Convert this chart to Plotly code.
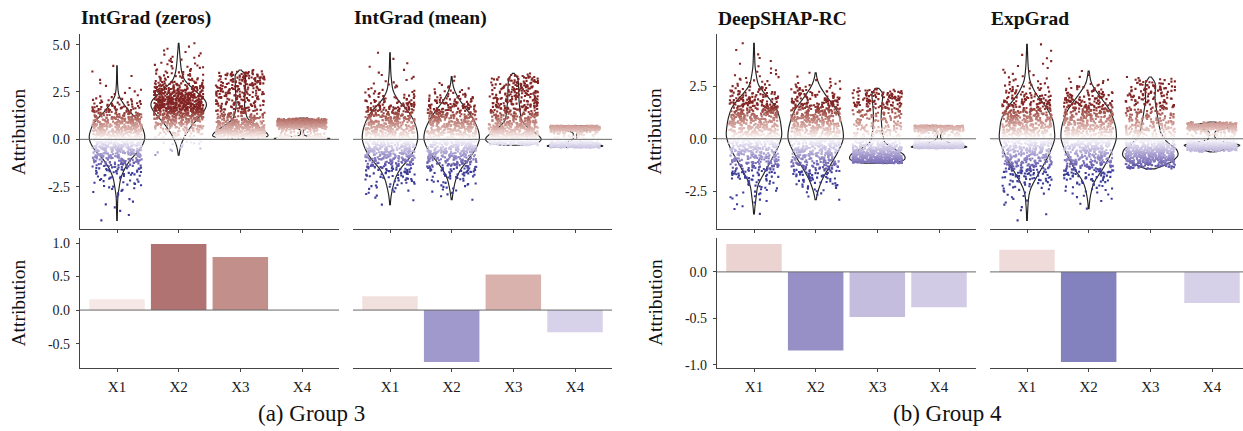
import numpy as np
import plotly.graph_objects as go

# ---------------- data ----------------
FEATURES = ["X1", "X2", "X3", "X4"]
METHODS = ["IntGrad (zeros)", "IntGrad (mean)", "DeepSHAP-RC", "ExpGrad"]
GROUP_OF_METHOD = [0, 0, 1, 1]
GROUP_CAPTIONS = ["(a) Group 3", "(b) Group 4"]
AXIS_TITLE = "Attribution"

# bar heights (global attribution per feature)
BARS_INTGRAD_ZEROS = [0.16, 0.985, 0.79, 0.0]
BARS_INTGRAD_MEAN = [0.205, -0.775, 0.53, -0.33]
BARS_DEEPSHAP = [0.30, -0.845, -0.486, -0.38]
BARS_EXPGRAD = [0.237, -0.97, 0.0, -0.335]

# distribution of local attributions: value levels and relative density (violin width)
ZEROS_LEVELS = [
    [3.88, 3.0, 2.6, 2.3, 1.9, 1.38, 0.86, 0.26, 0.0, -0.52, -1.03, -1.55, -2.07, -2.6, -3.0, -4.28],
    [5.07, 4.14, 3.6, 3.1, 2.59, 2.07, 1.8, 1.29, 0.78, 0.26, 0.0, -0.4, -0.83],
    [3.66, 3.45, 3.2, 2.5, 1.72, 1.3, 1.03, 0.69, 0.36, 0.17, 0.03],
    [1.12, 1.05, 0.95, 0.86, 0.75, 0.65, 0.5, 0.3, 0.2, 0.15, 0.1, 0.05, 0.0],
]
ZEROS_DENSITY = [
    [0.5, 1, 2, 3, 12, 28, 48, 56, 57, 47, 28, 15, 7, 4, 1.5, 0.5],
    [0.5, 3, 5, 10, 30, 50, 54, 42, 25, 13, 8, 3, 0.5],
    [0.5, 10, 10, 9, 8, 11, 15, 33, 50, 55, 56],
    [0.5, 15, 28, 33, 25, 10, 2, 2, 3, 8, 20, 40, 56],
]
MEAN_LEVELS = [
    [4.57, 3.5, 2.6, 2.07, 1.55, 1.03, 0.5, 0.0, -0.5, -1.03, -1.55, -2.07, -2.6, -3.0, -3.45],
    [3.31, 2.9, 2.59, 2.07, 1.55, 1.03, 0.5, 0.0, -0.52, -1.03, -1.55, -2.07, -2.59, -3.19],
    [3.48, 3.3, 3.0, 2.0, 1.03, 0.7, 0.52, 0.26, 0.0, -0.17, -0.31],
    [0.72, 0.62, 0.5, 0.4, 0.3, 0.1, 0.0, -0.14, -0.28, -0.35, -0.43],
]
MEAN_DENSITY = [
    [0.5, 1.5, 5, 15, 35, 47, 54, 56, 50, 38, 20, 10, 5, 2, 0.5],
    [0.5, 2, 5, 15, 30, 43, 52, 55, 47, 33, 18, 8, 4, 0.5],
    [0.5, 8, 10, 11, 15, 25, 33, 47, 56, 50, 40],
    [40, 50, 25, 6, 3, 3, 3, 15, 45, 55, 48],
]
DEEPSHAP_LEVELS = [
    [4.54, 3.4, 2.53, 1.98, 1.52, 0.9, 0.12, -0.5, -1.12, -1.74, -2.2, -2.84, -3.2, -3.57],
    [3.14, 2.9, 2.53, 1.98, 1.36, 0.59, 0.0, -0.65, -1.27, -1.9, -2.43, -2.9],
    [2.4, 2.2, 1.98, 1.5, 1.05, 0.28, -0.19, -0.5, -0.73, -0.96, -1.16],
    [0.63, 0.51, 0.35, 0.2, 0.05, -0.11, -0.27, -0.39, -0.45],
]
DEEPSHAP_DENSITY = [
    [0.5, 2, 8, 28, 45, 53, 57, 47, 32, 18, 7, 4, 2, 0.5],
    [0.5, 2, 7, 22, 42, 52, 55, 43, 28, 13, 5, 0.5],
    [3, 10, 10, 8, 7, 9, 13, 32, 50, 53, 45],
    [33, 20, 5, 3, 3, 8, 30, 55, 50],
]
EXPGRAD_LEVELS = [
    [4.49, 3.5, 2.76, 2.14, 1.52, 0.9, 0.0, -0.81, -1.58, -2.2, -2.5, -2.8, -3.3, -3.88],
    [3.22, 2.6, 1.98, 1.36, 0.59, 0.0, -0.65, -1.43, -2.05, -2.5, -2.9, -3.32],
    [2.94, 2.75, 2.6, 1.83, 0.9, 0.28, -0.19, -0.5, -0.81, -1.12, -1.35, -1.43],
    [0.8, 0.72, 0.62, 0.5, 0.4, 0.3, 0.1, -0.05, -0.15, -0.3, -0.45, -0.55, -0.62],
]
EXPGRAD_DENSITY = [
    [0.5, 2, 5, 17, 38, 52, 56, 43, 25, 10, 5, 3, 1.5, 0.5],
    [0.5, 5, 23, 42, 53, 55, 45, 28, 10, 5, 2, 0.5],
    [1, 8, 10, 9, 15, 20, 33, 52, 55, 40, 18, 13],
    [4, 20, 43, 25, 8, 5, 5, 8, 25, 55, 35, 15, 4],
]
N_OBS = 850

TOP_TICKS = [[-2.5, 0.0, 2.5, 5.0], [-2.5, 0.0, 2.5]]
TOP_TICKTEXT = [["-2.5", "0.0", "2.5", "5.0"], ["-2.5", "0.0", "2.5"]]
BOT_TICKS = [[-0.5, 0.0, 0.5, 1.0], [-1.0, -0.5, 0.0]]
BOT_TICKTEXT = [["-0.5", "0.0", "0.5", "1.0"], ["-1.0", "-0.5", "0.0"]]

BARS = [BARS_INTGRAD_ZEROS, BARS_INTGRAD_MEAN, BARS_DEEPSHAP, BARS_EXPGRAD]
LEVELS = [ZEROS_LEVELS, MEAN_LEVELS, DEEPSHAP_LEVELS, EXPGRAD_LEVELS]
DENSITY = [ZEROS_DENSITY, MEAN_DENSITY, DEEPSHAP_DENSITY, EXPGRAD_DENSITY]

# ---------------- styles ----------------
W, H = 1243, 431
FONT = "Liberation Serif"
LOW, MID, HIGH = "#3A3A98", "#FFFFFF", "#832424"
POINT_LIMIT = 1.6
BANDWIDTH = [0.17, 0.17, 0.08, 0.03]
PANEL_LEFT = [80, 353, 717, 990]
PANEL_WIDTH = 259
TOP_PX = (33, 231)
BOT_PX = (240, 372)
AXIS_COL = "#444444"


def fx(px):
    return px / W


def fy(px):
    return 1 - px / H


# ---- CIELAB interpolation (as ggplot's gradient2) ----
def _lab(hexc):
    rgb = np.array([int(hexc[i:i + 2], 16) for i in (1, 3, 5)]) / 255.0
    lin = np.where(rgb <= 0.04045, rgb / 12.92, ((rgb + 0.055) / 1.055) ** 2.4)
    M = np.array([[0.4124564, 0.3575761, 0.1804375],
                  [0.2126729, 0.7151522, 0.0721750],
                  [0.0193339, 0.1191920, 0.9503041]])
    xyz = M @ lin / np.array([0.95047, 1.0, 1.08883])
    d = 6 / 29
    f = np.where(xyz > d ** 3, np.cbrt(xyz), xyz / (3 * d * d) + 4 / 29)
    return np.array([116 * f[1] - 16, 500 * (f[0] - f[1]), 200 * (f[1] - f[2])])


def _hex(lab):
    L, a, b = lab
    fy_ = (L + 16) / 116
    fx_ = fy_ + a / 500
    fz_ = fy_ - b / 200
    d = 6 / 29
    f = np.array([fx_, fy_, fz_])
    xyz = np.where(f > d, f ** 3, 3 * d * d * (f - 4 / 29)) * np.array([0.95047, 1.0, 1.08883])
    Minv = np.array([[3.2404542, -1.5371385, -0.4985314],
                     [-0.9692660, 1.8760108, 0.0415560],
                     [0.0556434, -0.2040259, 1.0572252]])
    lin = np.clip(Minv @ xyz, 0, 1)
    rgb = np.where(lin <= 0.0031308, 12.92 * lin, 1.055 * lin ** (1 / 2.4) - 0.055)
    r, g, bb = (np.clip(rgb, 0, 1) * 255).round().astype(int)
    return "#%02x%02x%02x" % (r, g, bb)


def diverging_scale(n=41):
    lo, mi, hi = _lab(LOW), _lab(MID), _lab(HIGH)
    stops = []
    for i in range(n):
        t = i / (n - 1)
        if t < 0.5:
            c = lo + (mi - lo) * (t / 0.5)
        else:
            c = mi + (hi - mi) * ((t - 0.5) / 0.5)
        stops.append([t, _hex(c)])
    return stops


SCALE = diverging_scale()


def observations(levels, density, n):
    lv = np.asarray(levels, float)
    dn = np.asarray(density, float)
    o = np.argsort(lv)
    lv, dn = lv[o], dn[o]
    grid = np.linspace(lv[0], lv[-1], 6000)
    d = np.interp(grid, lv, dn)
    cdf = np.concatenate([[0.0], np.cumsum((d[1:] + d[:-1]) / 2 * np.diff(grid))])
    cdf /= cdf[-1]
    return np.interp(np.linspace(0, 1, n), cdf, grid)


def jitter(n, seed):
    i = np.arange(n, dtype=float)
    v = np.sin(i * 12.9898 + seed * 78.233) * 43758.5453
    return (v - np.floor(v)) * 2 - 1


fig = go.Figure()
layout = dict(
    width=W, height=H, margin=dict(l=0, r=0, t=0, b=0),
    paper_bgcolor="white", plot_bgcolor="white",
    showlegend=False, violinmode="overlay", barmode="overlay",
    font=dict(family=FONT, color="#222222"),
)

# group-wise ranges with ggplot's 5% expansion
top_rng, bot_rng = [], []
for g in (0, 1):
    ms = [m for m in range(4) if GROUP_OF_METHOD[m] == g]
    vals = [v for m in ms for lv in LEVELS[m] for v in lv]
    lo, hi = min(vals), max(vals)
    top_rng.append([lo - 0.05 * (hi - lo), hi + 0.05 * (hi - lo)])
    bvals = [v for m in ms for v in BARS[m]] + [0.0]
    lo, hi = min(bvals), max(bvals)
    bot_rng.append([lo - 0.05 * (hi - lo), hi + 0.05 * (hi - lo)])

shapes = []
annotations = []
for m in range(4):
    g = GROUP_OF_METHOD[m]
    first = (m % 2 == 0)
    left = PANEL_LEFT[m]
    right = min(left + PANEL_WIDTH, W)
    xr = [0.4, 0.4 + 4.2 * (right - left) / PANEL_WIDTH]
    it, ib = 2 * m + 1, 2 * m + 2
    xt = "x" if it == 1 else f"x{it}"
    yt = "y" if it == 1 else f"y{it}"
    xb, yb = f"x{ib}", f"y{ib}"

    pos = list(range(1, len(FEATURES) + 1))
    common_x = dict(domain=[fx(left), fx(right)], range=xr, showgrid=False, zeroline=False,
                    showline=True, linecolor=AXIS_COL, linewidth=1.2,
                    ticks="outside", ticklen=3, tickcolor=AXIS_COL, tickwidth=1.2,
                    tickvals=pos, ticktext=FEATURES, fixedrange=True)
    layout["xaxis" if it == 1 else f"xaxis{it}"] = dict(common_x, anchor=yt, showticklabels=False)
    layout[f"xaxis{ib}"] = dict(common_x, anchor=yb, showticklabels=True,
                                tickfont=dict(family=FONT, size=15, color="#1a1a1a"),
                                ticklabelstandoff=2)
    ycommon = dict(showgrid=False, zeroline=False, fixedrange=True,
                   showline=first, linecolor=AXIS_COL, linewidth=1.2,
                   ticks="outside" if first else "", ticklen=3, tickcolor=AXIS_COL, tickwidth=1.2,
                   showticklabels=first, tickfont=dict(family=FONT, size=14, color="#1a1a1a"),
                   ticklabelstandoff=3)
    layout["yaxis" if it == 1 else f"yaxis{it}"] = dict(
        ycommon, anchor=xt, domain=[fy(TOP_PX[1]), fy(TOP_PX[0])], range=top_rng[g],
        tickvals=TOP_TICKS[g], ticktext=TOP_TICKTEXT[g])
    layout[f"yaxis{ib}"] = dict(
        ycommon, anchor=xb, domain=[fy(BOT_PX[1]), fy(BOT_PX[0])], range=bot_rng[g],
        tickvals=BOT_TICKS[g], ticktext=BOT_TICKTEXT[g])

    # jittered local attributions + violins
    for k in range(4):
        obs = observations(LEVELS[m][k], DENSITY[m][k], N_OBS)
        jx = pos[k] + 0.4 * jitter(N_OBS, 7 * m + k + 1)
        order = np.argsort(jitter(N_OBS, 100 + 7 * m + k))
        fig.add_trace(go.Scatter(
            x=jx[order], y=obs[order], mode="markers", xaxis=xt, yaxis=yt, hoverinfo="skip",
            marker=dict(color=obs[order], colorscale=SCALE, cmin=-POINT_LIMIT, cmax=POINT_LIMIT,
                        size=2.1, symbol="square", line=dict(width=0))))
    for k in range(4):
        obs = observations(LEVELS[m][k], DENSITY[m][k], N_OBS)
        fig.add_trace(go.Violin(
            y=obs, x0=pos[k], xaxis=xt, yaxis=yt, width=0.9, scalemode="width",
            spanmode="hard", bandwidth=BANDWIDTH[k], points=False, hoverinfo="skip",
            line=dict(color="#222222", width=1.15), fillcolor="rgba(0,0,0,0)",
            box=dict(visible=False), meanline=dict(visible=False), side="both"))

    # bars
    fig.add_trace(go.Bar(
        x=pos, y=BARS[m], width=0.9, xaxis=xb, yaxis=yb, hoverinfo="skip",
        marker=dict(color=BARS[m], colorscale=SCALE, cmin=-1, cmax=1, opacity=0.65,
                    line=dict(width=0))))

    for xa, ya in ((xt, yt), (xb, yb)):
        shapes.append(dict(type="line", xref=f"{xa} domain", yref=ya, x0=0, x1=1, y0=0, y1=0,
                           line=dict(color="#686868", width=1), layer="above"))

    annotations.append(dict(text=f"<b>{METHODS[m]}</b>", x=fx(left - 1), y=fy(16.5), xref="paper",
                            yref="paper", xanchor="left", yanchor="middle", showarrow=False,
                            font=dict(family=FONT, size=19.5, color="#111111")))

for g, xpx in ((0, 18.5), (1, 655)):
    for (a, b) in (TOP_PX, BOT_PX):
        annotations.append(dict(text=AXIS_TITLE, x=fx(xpx), y=fy((a + b) / 2), xref="paper",
                                yref="paper", xanchor="center", yanchor="middle", showarrow=False,
                                textangle=-90, font=dict(family=FONT, size=19.5, color="#111111")))

for g, xpx in ((0, 311), (1, 947)):
    annotations.append(dict(text=GROUP_CAPTIONS[g], x=fx(xpx), y=fy(418), xref="paper",
                            yref="paper", xanchor="center", yanchor="middle", showarrow=False,
                            font=dict(family=FONT, size=23, color="#111111")))

layout["shapes"] = shapes
layout["annotations"] = annotations
fig.update_layout(**layout)
fig.write_html("out.html")
